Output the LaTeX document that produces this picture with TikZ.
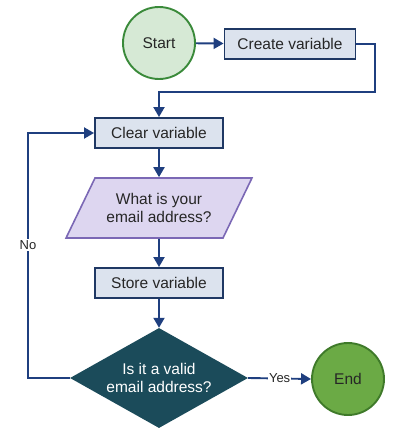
\documentclass[tikz,border=0pt]{standalone}
\usepackage{fontspec}
\setmainfont{Liberation Sans}
\usepackage{xcolor}
\usetikzlibrary{shapes.geometric,arrows.meta}
\definecolor{termfill}{HTML}{D6E9D5}
\definecolor{termdraw}{HTML}{3A8A3A}
\definecolor{boxfill}{HTML}{DCE3EE}
\definecolor{boxdraw}{HTML}{1F3864}
\definecolor{askfill}{HTML}{DDD6F0}
\definecolor{askdraw}{HTML}{7B68B5}
\definecolor{checkfill}{HTML}{1B4B5A}
\definecolor{endfill}{HTML}{6BAA45}
\definecolor{enddraw}{HTML}{3F7A2A}
\definecolor{flowcol}{HTML}{1F3F7F}
\definecolor{txt}{HTML}{262626}
\begin{document}
\begin{tikzpicture}[x=1pt,y=-1pt,
  every node/.style={font=\fontsize{15.5}{18}\selectfont, text=txt},
  term/.style={circle, draw=termdraw, fill=termfill, line width=1.9pt, minimum size=72pt, inner sep=0pt},
  proc/.style={rectangle, draw=boxdraw, fill=boxfill, line width=1.9pt, minimum height=30pt, inner sep=0pt},
  io/.style={trapezium, trapezium left angle=51, trapezium right angle=129, trapezium stretches=true,
    draw=askdraw, fill=askfill, line width=1.6pt, minimum width=186pt, minimum height=60pt, inner sep=0pt, align=center},
  test/.style={diamond, aspect=1.78, fill=checkfill, text=white, minimum width=178pt, minimum height=100pt, inner sep=0pt, align=center},
  flow/.style={draw=flowcol, line width=1.9pt, -{Triangle[length=10pt,width=11pt]}}]
				\useasboundingbox (0,0) rectangle (400,439);
				\node[term] (start) at (159,43) {Start};
				\node[proc,minimum width=131pt] (create) at (290,44) {Create variable};
				\node[proc,minimum width=128pt] (clear) at (159,133) {Clear variable};
				\node[io] (ask) at (159,208) {What is your\\email address?};
				\node[proc,minimum width=128pt] (store) at (159,283) {Store variable};
				\node[test] (check) at (159,378) {Is it a valid\\email address?};
				\node[term,draw=enddraw,fill=endfill] (end) at (348,379) {End};
				\coordinate (bend) at (375,92);
				\coordinate (noturn) at (28,133);
				\draw[flow] (start) -- (create);
				\draw[flow] (create.east) -| (bend) -| (clear.north);
				\draw[flow] (clear) -- (ask);
				\draw[flow] (ask) -- (store);
				\draw[flow] (store) -- (check);
				\draw[flow] (check.east) -- (end.west) node[midway,fill=white,inner sep=1pt,font=\fontsize{13}{15}\selectfont] {Yes};
				\draw[flow] (check.west) -| (noturn) -- (clear.west);
				\node[fill=white,inner sep=1pt,font=\fontsize{13}{15}\selectfont] (nolbl) at (28,245) {No};
\end{tikzpicture}
\end{document}
